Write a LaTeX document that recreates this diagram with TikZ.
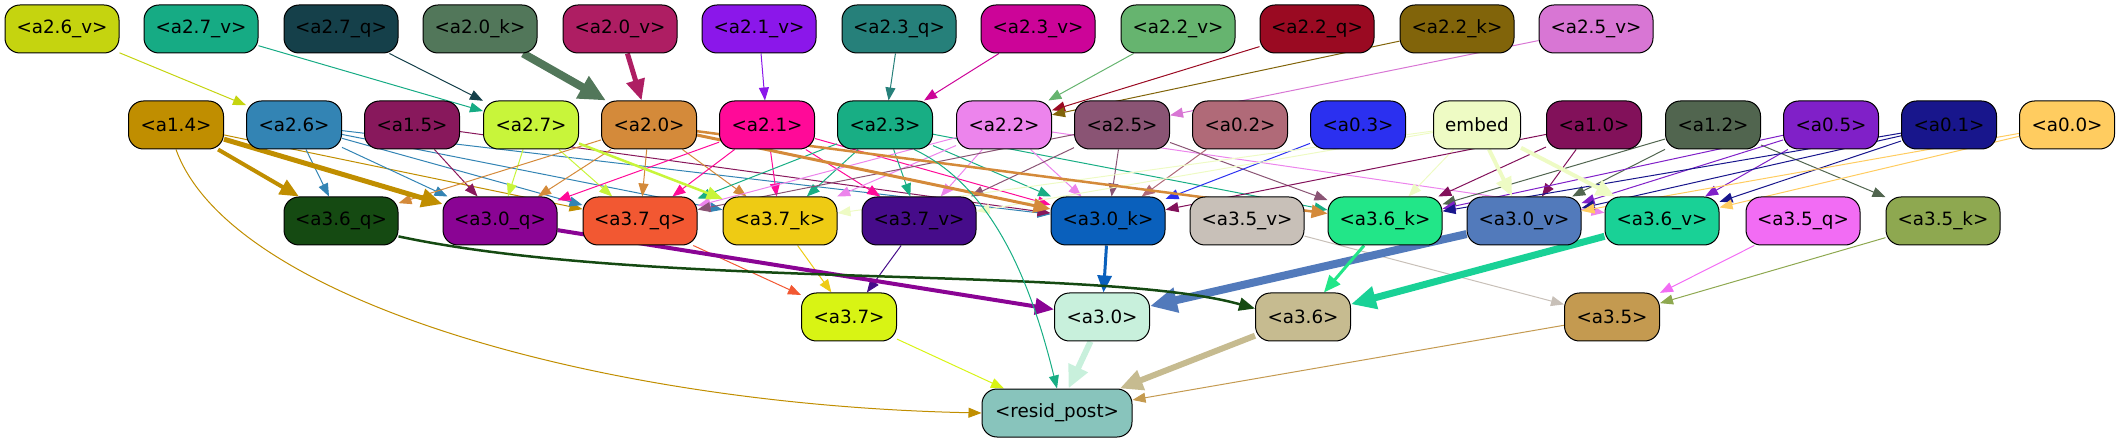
\documentclass[tikz,border=0pt]{standalone}
\usepackage{fontspec}
\setmainfont{DejaVu Sans}
\usetikzlibrary{arrows.meta}
\pgfdeclarelayer{bg}
\pgfsetlayers{bg,main}

\definecolor{ca26v}{HTML}{C5D40F}
\definecolor{ca27v}{HTML}{16AB84}
\definecolor{ca27q}{HTML}{15404A}
\definecolor{ca20k}{HTML}{52775A}
\definecolor{ca20v}{HTML}{AE1E63}
\definecolor{ca21v}{HTML}{8B17EA}
\definecolor{ca23q}{HTML}{26807A}
\definecolor{ca23v}{HTML}{CC0498}
\definecolor{ca22v}{HTML}{66B46F}
\definecolor{ca22q}{HTML}{9A0A22}
\definecolor{ca22k}{HTML}{81640A}
\definecolor{ca25v}{HTML}{D876D4}
\definecolor{ca14}{HTML}{C08E00}
\definecolor{ca26}{HTML}{3384B4}
\definecolor{ca15}{HTML}{88185C}
\definecolor{ca27}{HTML}{C8F53A}
\definecolor{ca20}{HTML}{D48A3A}
\definecolor{ca21}{HTML}{FF0A98}
\definecolor{ca23}{HTML}{18AE84}
\definecolor{ca22}{HTML}{EC84EC}
\definecolor{ca25}{HTML}{8A5474}
\definecolor{ca02}{HTML}{B06A78}
\definecolor{ca03}{HTML}{2B30F0}
\definecolor{cembed}{HTML}{EEFBC4}
\definecolor{ca10}{HTML}{82115A}
\definecolor{ca12}{HTML}{51654F}
\definecolor{ca05}{HTML}{8020C8}
\definecolor{ca01}{HTML}{18168C}
\definecolor{ca00}{HTML}{FFCC60}
\definecolor{ca36q}{HTML}{154A12}
\definecolor{ca30q}{HTML}{8A0494}
\definecolor{ca37q}{HTML}{F25832}
\definecolor{ca37k}{HTML}{EECB14}
\definecolor{ca37v}{HTML}{460C8A}
\definecolor{ca30k}{HTML}{0A60BC}
\definecolor{ca35v}{HTML}{C8C0B8}
\definecolor{ca36k}{HTML}{22E688}
\definecolor{ca30v}{HTML}{527ABB}
\definecolor{ca36v}{HTML}{19D196}
\definecolor{ca35q}{HTML}{F26CF4}
\definecolor{ca35k}{HTML}{8EA850}
\definecolor{ca37}{HTML}{D8F414}
\definecolor{ca30}{HTML}{C8F0DC}
\definecolor{ca36}{HTML}{C6BB90}
\definecolor{ca35}{HTML}{C49A50}
\definecolor{cresid}{HTML}{88C4BC}

\begin{document}
\begin{tikzpicture}[x=1pt,y=-1pt,font=\fontsize{18.3}{22}\selectfont,
  box/.style={draw=black, line width=1pt, rounded corners=15pt, minimum height=48pt, inner sep=0pt, text=black},
  wide/.style={box, minimum width=114pt},
  narrow/.style={box, minimum width=95pt},
  ln/.style={line width=1pt, -{Triangle[length=11pt 2, width=8pt 2]}}]
  \useasboundingbox (0,0) rectangle (2119,443);

  % top row: inputs of layer 2
  \node[wide, fill=ca26v] (a26v) at (62,29) {<a2.6\_v>};
  \node[wide, fill=ca27v] (a27v) at (201,29) {<a2.7\_v>};
  \node[wide, fill=ca27q] (a27q) at (341,29) {<a2.7\_q>};
  \node[wide, fill=ca20k] (a20k) at (480,29) {<a2.0\_k>};
  \node[wide, fill=ca20v] (a20v) at (620,29) {<a2.0\_v>};
  \node[wide, fill=ca21v] (a21v) at (759,29) {<a2.1\_v>};
  \node[wide, fill=ca23q] (a23q) at (899,29) {<a2.3\_q>};
  \node[wide, fill=ca23v] (a23v) at (1038,29) {<a2.3\_v>};
  \node[wide, fill=ca22v] (a22v) at (1178,29) {<a2.2\_v>};
  \node[wide, fill=ca22q] (a22q) at (1317,29) {<a2.2\_q>};
  \node[wide, fill=ca22k] (a22k) at (1457,29) {<a2.2\_k>};
  \node[wide, fill=ca25v] (a25v) at (1596,29) {<a2.5\_v>};

  % second row: heads
  \node[narrow, fill=ca14] (a14) at (176,125) {<a1.4>};
  \node[narrow, fill=ca26] (a26) at (294,125) {<a2.6>};
  \node[narrow, fill=ca15] (a15) at (412,125) {<a1.5>};
  \node[narrow, fill=ca27] (a27) at (531,125) {<a2.7>};
  \node[narrow, fill=ca20] (a20) at (649,125) {<a2.0>};
  \node[narrow, fill=ca21] (a21) at (767,125) {<a2.1>};
  \node[narrow, fill=ca23] (a23) at (885,125) {<a2.3>};
  \node[narrow, fill=ca22] (a22) at (1004,125) {<a2.2>};
  \node[narrow, fill=ca25] (a25) at (1122,125) {<a2.5>};
  \node[narrow, fill=ca02] (a02) at (1240,125) {<a0.2>};
  \node[narrow, fill=ca03] (a03) at (1358,125) {<a0.3>};
  \node[box, minimum width=87pt, fill=cembed] (embed) at (1477,125) {embed};
  \node[narrow, fill=ca10] (a10) at (1594,125) {<a1.0>};
  \node[narrow, fill=ca12] (a12) at (1713,125) {<a1.2>};
  \node[narrow, fill=ca05] (a05) at (1831,125) {<a0.5>};
  \node[narrow, fill=ca01] (a01) at (1949,125) {<a0.1>};
  \node[narrow, fill=ca00] (a00) at (2067,125) {<a0.0>};

  % third row: inputs of layer 3
  \node[wide, fill=ca36q] (a36q) at (341,221) {<a3.6\_q>};
  \node[wide, fill=ca30q] (a30q) at (500,221) {<a3.0\_q>};
  \node[wide, fill=ca37q] (a37q) at (640,221) {<a3.7\_q>};
  \node[wide, fill=ca37k] (a37k) at (780,221) {<a3.7\_k>};
  \node[wide, fill=ca37v] (a37v) at (919,221) {<a3.7\_v>};
  \node[wide, fill=ca30k] (a30k) at (1108,221) {<a3.0\_k>};
  \node[wide, fill=ca35v] (a35v) at (1247,221) {<a3.5\_v>};
  \node[wide, fill=ca36k] (a36k) at (1385,221) {<a3.6\_k>};
  \node[wide, fill=ca30v] (a30v) at (1524,221) {<a3.0\_v>};
  \node[wide, fill=ca36v] (a36v) at (1662,221) {<a3.6\_v>};
  \node[wide, fill=ca35q] (a35q) at (1803,221) {<a3.5\_q>};
  \node[wide, fill=ca35k] (a35k) at (1943,221) {<a3.5\_k>};

  % layer 3 heads and output
  \node[narrow, fill=ca37] (a37) at (849,317) {<a3.7>};
  \node[narrow, fill=ca30] (a30) at (1102,317) {<a3.0>};
  \node[narrow, fill=ca36] (a36) at (1303,317) {<a3.6>};
  \node[narrow, fill=ca35] (a35) at (1612,317) {<a3.5>};
  \node[box, minimum width=150pt, fill=cresid] (resid) at (1057,413) {<resid\_post>};

  \begin{pgfonlayer}{bg}
  % thin edges, coloured as their source
  \foreach \s/\t in {a26v/a26, a27v/a27, a27q/a27, a21v/a21, a23q/a23, a23v/a23,
      a22v/a22, a22q/a22, a22k/a22, a25v/a25,
      a14/a37q,
      a26/a36q, a26/a30q, a26/a37q, a26/a37k, a26/a30k,
      a15/a30q, a15/a30k,
      a27/a30q, a27/a37q,
      a20/a36q, a20/a30q, a20/a37q, a20/a37k,
      a21/a30q, a21/a37q, a21/a37k, a21/a37v, a21/a30k,
      a23/a37q, a23/a37k, a23/a37v, a23/a30k, a23/a36k,
      a22/a37q, a22/a37k, a22/a37v, a22/a30k, a22/a36v,
      a25/a37q, a25/a37v, a25/a30k, a25/a36k,
      a02/a30k, a03/a30k,
      embed/a37k, embed/a37v, embed/a36k,
      a10/a30k, a10/a36k, a10/a30v,
      a12/a36k, a12/a30v, a12/a35k,
      a05/a36k, a05/a30v, a05/a36v,
      a01/a36k, a01/a30v, a01/a36v,
      a00/a30v, a00/a36v,
      a37q/a37, a37k/a37, a37v/a37, a35v/a35, a35q/a35, a35k/a35,
      a37/resid, a35/resid}
    \draw[ln, color=c\s] (\s) -- (\t);

  % heavier edges
  \draw[ln, color=ca20k, line width=8pt] (a20k) -- (a20);
  \draw[ln, color=ca20v, line width=5pt] (a20v) -- (a20);
  \draw[ln, color=ca14, line width=4pt] (a14) -- (a36q);
  \draw[ln, color=ca14, line width=5pt] (a14) -- (a30q);
  \draw[ln, color=ca27, line width=2.5pt] (a27) -- (a37k);
  \draw[ln, color=ca20, line width=3pt] (a20) -- (a30k);
  \draw[ln, color=ca20, line width=2.5pt] (a20) -- (a36k);
  \draw[ln, color=cembed, line width=4pt] (embed) -- (a30v);
  \draw[ln, color=cembed, line width=4pt] (embed) -- (a36v);
  \draw[ln, color=ca30q, line width=4pt] (a30q) -- (a30);
  \draw[ln, color=ca30k, line width=3pt] (a30k) -- (a30);
  \draw[ln, color=ca30v, line width=8pt] (a30v) -- (a30);
  \draw[ln, color=ca36k, line width=3pt] (a36k) -- (a36);
  \draw[ln, color=ca36v, line width=7pt] (a36v) -- (a36);
  \draw[ln, color=ca36q, line width=2.5pt] (a36q.-15) .. controls (650,290) and (1100,265) .. (a36.170);
  \draw[ln, color=ca30, line width=6pt] (a30) -- (resid);
  \draw[ln, color=ca36, line width=6pt] (a36) -- (resid);

  % long curves to the output
  \draw[ln, color=ca14] (a14.south) .. controls (230,300) and (600,405) .. (resid.west);
  \draw[ln, color=ca23] (a23.-40) .. controls (1000,190) and (1035,300) .. (resid.north);
  \end{pgfonlayer}
\end{tikzpicture}
\end{document}
